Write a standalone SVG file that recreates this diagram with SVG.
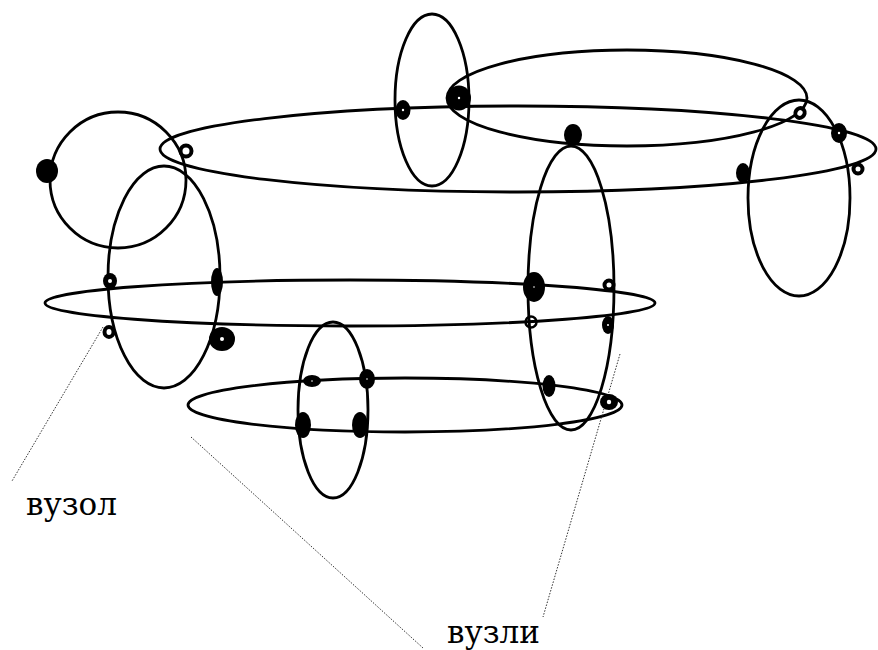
<svg xmlns="http://www.w3.org/2000/svg" width="878" height="650" viewBox="0 0 878 650">
<style>
.loop{fill:none;stroke:#000;stroke-width:2.8}
.dot{fill:#000}
.hole{fill:#fff}
.ring{fill:#fff;stroke:#000;stroke-width:4}
.xring{fill:none;stroke:#000;stroke-width:2.5}
.lead{fill:none;stroke:#333;stroke-width:1;stroke-dasharray:1.5 1.5}
.lbl{font-family:"DejaVu Serif","Liberation Serif",serif;font-size:31px;fill:#000}
</style>
<rect width="878" height="650" fill="#fff"/>
<g id="loops">
<circle id="loop-circle" class="loop" cx="118" cy="180" r="68"/>
<ellipse id="loop-top-wide" class="loop" cx="518" cy="149" rx="358" ry="43"/>
<ellipse id="loop-top-tall" class="loop" cx="432" cy="100" rx="37" ry="86"/>
<ellipse id="loop-upper-right" class="loop" cx="627" cy="98" rx="180" ry="48"/>
<ellipse id="loop-right-tall" class="loop" cx="799" cy="198" rx="51" ry="98"/>
<ellipse id="loop-left-tall" class="loop" cx="164" cy="277" rx="56" ry="111"/>
<ellipse id="loop-mid-wide" class="loop" cx="350" cy="303" rx="305" ry="23"/>
<ellipse id="loop-mid-tall" class="loop" cx="571" cy="288" rx="43" ry="142"/>
<ellipse id="loop-bottom-wide" class="loop" cx="405" cy="405" rx="217" ry="27"/>
<ellipse id="loop-bottom-tall" class="loop" cx="333" cy="410" rx="35" ry="88"/>
</g>
<g id="connectors">
<line class="lead" x1="103" y1="327" x2="12" y2="481"/>
<line class="lead" x1="191" y1="437" x2="423" y2="648"/>
<line class="lead" x1="620" y1="354" x2="543" y2="617"/>
</g>
<g id="nodes">
<g id="n1"><ellipse class="dot" cx="47" cy="171" rx="11" ry="12"/></g>
<g id="n2"><circle class="ring" cx="186" cy="151" r="5.5"/></g>
<g id="n3"><ellipse class="dot" cx="403" cy="110" rx="7.5" ry="10"/><circle class="hole" cx="403" cy="110" r="1.2"/></g>
<g id="n4"><ellipse class="dot" cx="459" cy="98" rx="12" ry="12.5"/><circle class="hole" cx="459" cy="98" r="1.2"/></g>
<g id="n5"><ellipse class="dot" cx="573" cy="135" rx="9" ry="11"/></g>
<g id="n6"><ellipse class="ring" cx="800" cy="113" rx="4.5" ry="5" transform="rotate(30 800 113)"/></g>
<g id="n7"><ellipse class="dot" cx="839" cy="133" rx="8" ry="10"/><circle class="hole" cx="839" cy="133" r="1.2"/></g>
<g id="n8"><ellipse class="dot" cx="743" cy="173" rx="7" ry="10"/></g>
<g id="n9"><circle class="ring" cx="858" cy="169" r="4.5"/></g>
<g id="n10"><ellipse class="dot" cx="110" cy="281" rx="7" ry="8"/><circle class="hole" cx="110" cy="281" r="2"/></g>
<g id="n11"><ellipse class="dot" cx="217" cy="282" rx="6" ry="14"/></g>
<g id="n12"><ellipse class="ring" cx="109" cy="332" rx="4.5" ry="5"/></g>
<g id="n13"><ellipse class="dot" cx="222" cy="339" rx="13" ry="12"/><circle class="hole" cx="222" cy="339" r="2"/></g>
<g id="n14"><ellipse class="dot" cx="534" cy="287" rx="11" ry="15"/><circle class="hole" cx="534" cy="287" r="0.8"/></g>
<g id="n15"><circle class="ring" cx="609" cy="285" r="4.5"/></g>
<g id="n16"><circle class="xring" cx="531" cy="322" r="5.5"/></g>
<g id="n17"><ellipse class="dot" cx="608" cy="325" rx="6" ry="9"/><circle class="hole" cx="608" cy="325" r="1"/></g>
<g id="n18"><ellipse class="dot" cx="549" cy="386" rx="6.5" ry="11"/></g>
<g id="n19"><ellipse class="dot" cx="609" cy="402" rx="9" ry="8"/><circle class="hole" cx="609" cy="402" r="2.2"/></g>
<g id="n20"><ellipse class="dot" cx="312" cy="381" rx="9" ry="6"/><circle class="hole" cx="312" cy="381" r="0.8"/></g>
<g id="n21"><ellipse class="dot" cx="367" cy="379" rx="8" ry="10"/><circle class="hole" cx="367" cy="379" r="0.8"/></g>
<g id="n22"><ellipse class="dot" cx="303" cy="425" rx="8" ry="13"/></g>
<g id="n23"><ellipse class="dot" cx="360" cy="425" rx="8" ry="13"/></g>
</g>
<g id="labels">
<text class="lbl" x="26" y="515">вузол</text>
<text class="lbl" x="447" y="643">вузли</text>
</g>
</svg>
